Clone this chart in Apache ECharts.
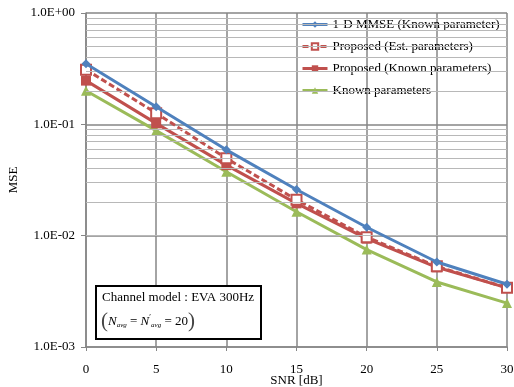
<!DOCTYPE html>
<html>
<head>
<meta charset="utf-8">
<script src="https://cdn.jsdelivr.net/npm/echarts@6/dist/echarts.min.js"></script>
<style>
  html, body { margin: 0; padding: 0; background: #fff; }
  #chart { width: 514px; height: 387px; }
</style>
</head>
<body>
<div id="chart"></div>
<script>
// SNR values (dB)
const snr = [0, 5, 10, 15, 20, 25, 30];

// MSE per curve
const mmse1d = [0.35, 0.144, 0.059, 0.026, 0.0119, 0.0058, 0.00366];
const proposedEst = [0.31, 0.126, 0.0495, 0.021, 0.0097, 0.0053, 0.0034];
const proposedKnown = [0.247, 0.102, 0.043, 0.0195, 0.0094, 0.0052, 0.0034];
const knownParams = [0.20, 0.0878, 0.0375, 0.0164, 0.0075, 0.00384, 0.00248];

const seriesNames = [
  "1-D MMSE (Known parameter)",
  "Proposed (Est. parameters)",
  "Proposed (Known parameters)",
  "Known parameters",
];

// minor log gridlines (2..9 within each decade)
const minorGrid = [];
[0.001, 0.01, 0.1].forEach((d) => {
  for (let m = 2; m <= 9; m++) minorGrid.push(+(m * d).toPrecision(3));
});

const font = "'Liberation Serif', 'Times New Roman', serif";
const pairs = (ys) => snr.map((x, i) => [x, ys[i]]);

function expLabel(v) {
  const e = Math.round(Math.log10(v));
  const sign = e < 0 ? "-" : "+";
  const abs = Math.abs(e);
  return "1.0E" + sign + (abs < 10 ? "0" + abs : abs);
}

const chart = echarts.init(document.getElementById("chart"));

const option = {
  animation: false,
  backgroundColor: "#fff",
  textStyle: { fontFamily: font },
  grid: { left: 86, right: 7, top: 13, bottom: 40, outerBoundsMode: "none" },
  legend: {
    orient: "vertical",
    left: 301,
    top: 18,
    padding: 0,
    itemWidth: 25,
    itemHeight: 8,
    itemGap: 9,
    data: seriesNames,
    lineStyle: { width: 3 },
    textStyle: { fontFamily: font, fontSize: 13, color: "#000" },
  },
  xAxis: {
    type: "value",
    min: 0,
    max: 30,
    interval: 5,
    name: "SNR [dB]",
    nameLocation: "middle",
    nameGap: 27,
    nameMoveOverlap: false,
    nameTextStyle: { fontFamily: font, fontSize: 13, color: "#000" },
    axisLine: { lineStyle: { color: "#868686", width: 1.5 } },
    axisTick: { show: true, length: 4, lineStyle: { color: "#868686" } },
    axisLabel: { fontFamily: font, fontSize: 13, color: "#000", margin: 16 },
    splitLine: { show: true, lineStyle: { color: "#868686", width: 1.5 } },
  },
  yAxis: {
    type: "log",
    logBase: 10,
    min: 0.001,
    max: 1,
    interval: 1,
    name: "MSE",
    nameLocation: "middle",
    nameGap: 66,
    nameMoveOverlap: false,
    nameTextStyle: { fontFamily: font, fontSize: 13, color: "#000" },
    axisLine: { show: true, lineStyle: { color: "#868686", width: 1.5 } },
    axisTick: { show: true, length: 5, lineStyle: { color: "#868686" } },
    axisLabel: {
      fontFamily: font,
      fontSize: 13,
      color: "#000",
      margin: 11,
      formatter: expLabel,
    },
    splitLine: { show: true, lineStyle: { color: "#868686", width: 1.5 } },
  },
  graphic: [
    {
      type: "rect",
      left: 95,
      top: 285,
      shape: { width: 165, height: 53 },
      style: { fill: "#fff", stroke: "#000", lineWidth: 2 },
      z: 100,
    },
    {
      type: "text",
      left: 102,
      top: 291,
      style: {
        text: "Channel model : EVA 300Hz",
        font: "13px " + font,
        fill: "#000",
      },
      z: 101,
    },
    {
      type: "text",
      left: 101,
      top: 311,
      style: {
        text: "{p|(}{n|N}{s|avg}{t| = }{n|N}{q|′}{s|avg}{t| = 20}{p|)}",
        rich: {
          p: { fontFamily: font, fontSize: 21, fill: "#444" },
          n: { fontFamily: font, fontSize: 13, fontStyle: "italic", fill: "#000" },
          s: { fontFamily: font, fontSize: 7, fontStyle: "italic", fill: "#000", padding: [8, 0, 0, 0] },
          q: { fontFamily: font, fontSize: 8, fill: "#000", padding: [0, 0, 8, 0] },
          t: { fontFamily: font, fontSize: 13, fill: "#000" },
        },
      },
      z: 101,
    },
  ],
  series: [
    {
      type: "line",
      name: "minor",
      data: [],
      z: 1,
      silent: true,
      markLine: {
        silent: true,
        symbol: "none",
        animation: false,
        label: { show: false },
        lineStyle: { color: "#b8b8b8", width: 1, type: "solid" },
        data: minorGrid.map((v) => ({ yAxis: v })),
      },
    },
    {
      name: seriesNames[0],
      type: "line",
      data: pairs(mmse1d),
      symbol: "diamond",
      symbolSize: 9,
      lineStyle: { color: "#4F81BD", width: 3 },
      itemStyle: { color: "#4F81BD" },
      z: 5,
    },
    {
      name: seriesNames[1],
      type: "line",
      data: pairs(proposedEst),
      symbol: "emptyRect",
      symbolSize: 10,
      lineStyle: { color: "#C0504D", width: 3, type: [6, 3] },
      itemStyle: { color: "#C0504D", borderWidth: 3 },
      z: 4,
    },
    {
      name: seriesNames[2],
      type: "line",
      data: pairs(proposedKnown),
      symbol: "rect",
      symbolSize: 10,
      lineStyle: { color: "#C0504D", width: 3 },
      itemStyle: { color: "#C0504D" },
      z: 3,
    },
    {
      name: seriesNames[3],
      type: "line",
      data: pairs(knownParams),
      symbol: "triangle",
      symbolSize: 10,
      lineStyle: { color: "#9BBB59", width: 3 },
      itemStyle: { color: "#9BBB59" },
      z: 2,
    },
  ],
};

chart.setOption(option);
</script>
</body>
</html>
